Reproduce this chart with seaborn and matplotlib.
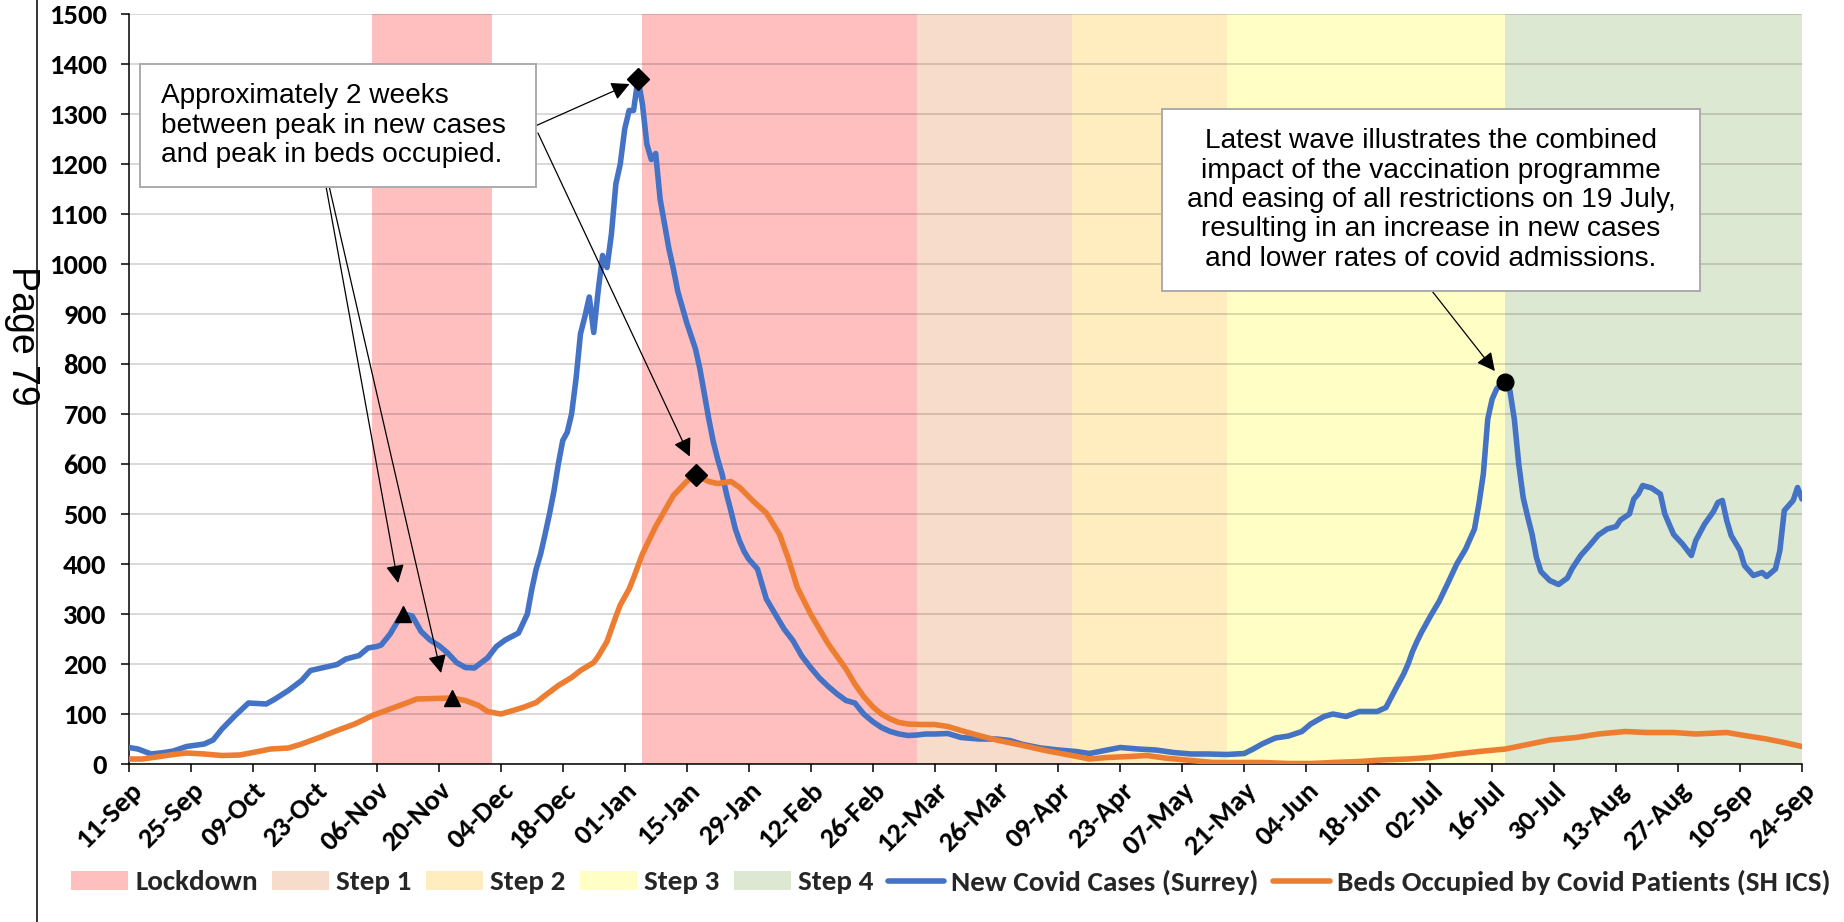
import matplotlib
matplotlib.use("Agg")
import numpy as np
import pandas as pd
import matplotlib.pyplot as plt
import matplotlib.dates as mdates
from matplotlib.patches import Patch, Rectangle
from matplotlib.lines import Line2D
from matplotlib import font_manager
import seaborn as sns

# ---------------- data ----------------
START = pd.Timestamp("2020-09-11")
END = pd.Timestamp("2021-09-24")

# New Covid Cases (Surrey): day offset from 11-Sep-2020, value
case_day = [0, 2, 5, 8, 10, 13, 17, 19, 21, 24,
            27, 29, 31, 33, 36, 39, 41, 44, 47, 49,
            52, 54, 56, 57, 59, 61, 62, 64, 66, 68,
            70, 72, 74, 76, 78, 81, 83, 85, 88, 90,
            91, 92, 93, 94, 95, 96, 97, 98, 99, 100,
            101, 102, 103, 104, 105, 106, 107, 108, 109, 110,
            111, 112, 113, 114, 115, 116, 117, 118, 119, 120,
            121, 122, 123, 124, 126, 128, 129, 130, 131, 132,
            133, 134, 135, 136, 137, 138, 139, 140, 142, 143,
            144, 146, 148, 150, 152, 154, 156, 158, 160, 162,
            164, 166, 168, 170, 172, 174, 176, 178, 180, 182,
            185, 188, 192, 196, 199, 202, 206, 210, 214, 217,
            221, 224, 228, 232, 236, 240, 244, 248, 252, 254,
            256, 259, 262, 265, 267, 270, 272, 275, 278, 282,
            284, 286, 288, 289, 290, 291, 292, 294, 296, 298,
            300, 302, 304, 305, 306, 307, 308, 309, 310, 311,
            312, 313, 314, 315, 316, 317, 318, 319, 321, 323,
            325, 326, 328, 330, 332, 334, 336, 337, 339, 340,
            341, 342, 344, 346, 347, 349, 351, 353, 354, 356,
            358, 359, 360, 361, 362, 364, 365, 367, 369, 370,
            372, 373, 374, 376, 377, 378]
case_val = [33, 30, 20, 23, 26, 35, 40, 48, 70, 97,
            122, 121, 120, 130, 147, 167, 187, 193, 199, 210,
            217, 232, 235, 238, 260, 290, 300, 296, 265, 248,
            237, 222, 203, 193, 192, 212, 235, 248, 262, 300,
            349, 390, 420, 459, 500, 545, 600, 647, 663, 700,
            770, 860, 895, 934, 863, 946, 1017, 993, 1060, 1160,
            1200, 1270, 1307, 1307, 1370, 1320, 1240, 1209, 1221, 1130,
            1080, 1030, 990, 945, 883, 830, 790, 740, 690, 645,
            610, 580, 540, 506, 470, 445, 425, 410, 390, 360,
            330, 300, 270, 247, 216, 193, 172, 155, 140, 127,
            122, 100, 85, 73, 65, 60, 57, 58, 60, 60,
            61, 53, 50, 50, 47, 39, 32, 28, 25, 21,
            28, 33, 30, 28, 23, 20, 20, 19, 21, 30,
            40, 52, 56, 65, 80, 95, 100, 95, 105, 105,
            113, 147, 180, 200, 225, 245, 263, 295, 325, 362,
            400, 430, 470, 520, 580, 690, 730, 750, 760, 765,
            747, 690, 600, 533, 495, 460, 413, 385, 367, 359,
            372, 390, 417, 437, 458, 470, 475, 488, 500, 530,
            540, 557, 552, 540, 500, 459, 440, 417, 447, 480,
            505, 523, 527, 487, 457, 427, 397, 377, 383, 375,
            390, 427, 507, 527, 553, 530]

# Beds Occupied by Covid Patients (SH ICS)
bed_day = [0, 3, 7, 10, 13, 17, 21, 25, 28, 32,
           36, 39, 43, 47, 51, 55, 59, 63, 65, 69,
           73, 76, 79, 81, 84, 86, 89, 92, 94, 97,
           100, 102, 105, 106, 108, 110, 111, 113, 114, 116,
           119, 121, 123, 126, 128, 131, 133, 136, 138, 141,
           144, 147, 149, 151, 154, 158, 160, 162, 164, 166,
           168, 170, 172, 174, 176, 179, 182, 185, 188, 192,
           196, 202, 207, 213, 217, 221, 226, 230, 234, 240,
           245, 256, 262, 267, 272, 278, 283, 289, 294, 300,
           305, 311, 316, 321, 327, 332, 338, 343, 349, 354,
           361, 365, 370, 374, 378]
bed_val = [10, 10, 15, 19, 22, 20, 17, 18, 23, 30,
           32, 40, 53, 67, 80, 97, 110, 123, 130, 131,
           132, 127, 117, 105, 100, 105, 113, 123, 137, 157,
           173, 187, 203, 215, 245, 295, 318, 350, 372, 420,
           475, 506, 537, 565, 578, 565, 561, 565, 553, 526,
           502, 459, 410, 353, 300, 240, 215, 190, 160, 135,
           115, 100, 90, 83, 80, 79, 79, 75, 67, 57,
           48, 37, 27, 17, 10, 13, 15, 17, 12, 7,
           3, 3, 1, 1, 3, 5, 8, 10, 13, 20,
           25, 30, 39, 48, 53, 60, 65, 63, 63, 60,
           63, 57, 50, 43, 35]

series_names = ["New Covid Cases (Surrey)", "Beds Occupied by Covid Patients (SH ICS)"]
series_colors = ["#4472C4", "#ED7D31"]

phase_labels = ["Lockdown", "Lockdown", "Step 1", "Step 2", "Step 3", "Step 4"]
phase_start = ["2020-11-05", "2021-01-05", "2021-03-08", "2021-04-12", "2021-05-17", "2021-07-19"]
phase_end = ["2020-12-02", "2021-03-08", "2021-04-12", "2021-05-17", "2021-07-19", "2021-09-24"]
phase_colors = {"Lockdown": "#FFBFBF", "Step 1": "#F8DCCB", "Step 2": "#FFEDBF",
                "Step 3": "#FFFFC5", "Step 4": "#DCE8D1"}

# highlighted points: (series index, day offset, marker)
marker_series = [0, 1, 0, 1, 0]
marker_days = [62, 73, 115, 128, 311]
marker_shapes = ["^", "^", "D", "D", "o"]

note1 = "Approximately 2 weeks\nbetween peak in new cases\nand peak in beds occupied."
note2 = ("Latest wave illustrates the combined\nimpact of the vaccination programme\n"
         "and easing of all restrictions on 19 July,\nresulting in an increase in new cases\n"
         "and lower rates of covid admissions.")

assert len(case_day) == len(case_val) and len(bed_day) == len(bed_val)

# ---------------- styling ----------------
sns.set_theme(style="white")
names = {f.name for f in font_manager.fontManager.ttflist}
if "Carlito" in names:
    bold_font, tick_size, leg_size = "Carlito", 20.5, 21
else:
    bold_font, tick_size, leg_size = "Lato", 19, 19.3
arial = "Liberation Sans" if "Liberation Sans" in names else "DejaVu Sans"
plt.rcParams["font.family"] = [bold_font, "DejaVu Sans"]

W, H = 1844, 922
LW = 4.0
fig = plt.figure(figsize=(W / 100, H / 100), dpi=100)
ax = fig.add_axes([129 / W, 1 - 764 / H, (1802 - 129) / W, (764 - 14) / H])

df = pd.concat([
    pd.DataFrame({"date": START + pd.to_timedelta(case_day, unit="D"),
                  "value": case_val, "series": series_names[0]}),
    pd.DataFrame({"date": START + pd.to_timedelta(bed_day, unit="D"),
                  "value": bed_val, "series": series_names[1]}),
])

# phase shading
for lab, s, e in zip(phase_labels, phase_start, phase_end):
    ax.axvspan(pd.Timestamp(s), pd.Timestamp(e), color=phase_colors[lab], lw=0, zorder=0)

sns.lineplot(data=df, x="date", y="value", hue="series", hue_order=series_names,
             palette=series_colors, linewidth=LW, ax=ax, legend=False, zorder=3)

# markers
lookups = [dict(zip(case_day, case_val)), dict(zip(bed_day, bed_val))]
for si, d, m in zip(marker_series, marker_days, marker_shapes):
    ax.plot(START + pd.Timedelta(days=d), lookups[si][d], marker=m, color="black",
            markersize=12 if m == "o" else 11, zorder=6, linestyle="none")

# axes
ax.set_xlim(START, END)
ax.set_ylim(0, 1500)
ax.set_yticks(range(0, 1501, 100))
tick_dates = pd.date_range(START, END, freq="14D")
ax.set_xticks(tick_dates)
ax.set_xticklabels([d.strftime("%d-%b") for d in tick_dates], rotation=45,
                   ha="right", va="top", rotation_mode="anchor")
for lbl in ax.get_xticklabels() + ax.get_yticklabels():
    lbl.set_fontweight("bold")
    lbl.set_fontsize(tick_size)
    lbl.set_color("black")
ax.tick_params(axis="y", length=6, width=1.1, direction="out", pad=10, left=True, colors="black")
ax.tick_params(axis="x", length=6, width=1.1, direction="out", pad=4, bottom=True, colors="black")
ax.set_xlabel("")
ax.set_ylabel("")
ax.set_axisbelow("line")
ax.yaxis.grid(True, color="black", alpha=0.15, linewidth=1.4)
ax.xaxis.grid(False)
for sp in ["top", "right"]:
    ax.spines[sp].set_visible(False)
for sp in ["left", "bottom"]:
    ax.spines[sp].set_color("black")
    ax.spines[sp].set_linewidth(1.1)
ax.set_facecolor("white")


def dnum(d):
    return mdates.date2num(START + pd.Timedelta(days=d))


# annotation boxes
box1 = (2.5, 91.9, 1154, 1400)
box2 = (233.4, 355.0, 946, 1310)
for (x0, x1, y0, y1) in (box1, box2):
    ax.add_patch(Rectangle((dnum(x0), y0), dnum(x1) - dnum(x0), y1 - y0,
                           facecolor="white", edgecolor="#ABABAB", lw=1.4, zorder=7))
ax.text(dnum(7.2), (box1[2] + box1[3]) / 2, note1, ha="left", va="center",
        fontsize=20.2, family=arial, linespacing=1.17, zorder=8, color="black")
ax.text(dnum((box2[0] + box2[1]) / 2), (box2[2] + box2[3]) / 2, note2, ha="center",
        va="center", multialignment="center", fontsize=20.2, family=arial,
        linespacing=1.17, zorder=8, color="black")

# arrows: (start day, start value, tip day, tip value)
arrows = [(44.5, 1156, 60.8, 362), (45.2, 1156, 70.5, 182),
          (91.8, 1276, 113.1, 1360), (92.4, 1262, 126.7, 615),
          (294.4, 946, 308.6, 786)]
for sd, sv, td, tv in arrows:
    ax.annotate("", xy=(dnum(td), tv), xytext=(dnum(sd), sv),
                arrowprops=dict(arrowstyle="-|>,head_length=0.55,head_width=0.28",
                                mutation_scale=20, color="black", lw=0.9,
                                shrinkA=0, shrinkB=0), zorder=6)

# page margin decorations
fig.add_artist(Line2D([37 / W, 37 / W], [0, 1], color="black", lw=1.1,
                      transform=fig.transFigure))
fig.text(22 / W, 1 - 336 / H, "Page 79", rotation=-90, ha="center", va="center",
         fontsize=27, family=arial, color="black")

# legend
handles = [Patch(facecolor=phase_colors[k], edgecolor="none")
           for k in ["Lockdown", "Step 1", "Step 2", "Step 3", "Step 4"]]
handles += [Line2D([], [], color=c, lw=LW) for c in series_colors]
labels = ["Lockdown", "Step 1", "Step 2", "Step 3", "Step 4"] + series_names
leg = fig.legend(handles, labels, loc="center", bbox_to_anchor=(951 / W, 1 - 882 / H),
                 ncol=7, frameon=False, handlelength=1.95, handleheight=0.62,
                 handletextpad=0.24, columnspacing=0.5,
                 prop={"family": bold_font, "weight": "bold", "size": leg_size})

fig.savefig("out.png", dpi=100, facecolor="white")
